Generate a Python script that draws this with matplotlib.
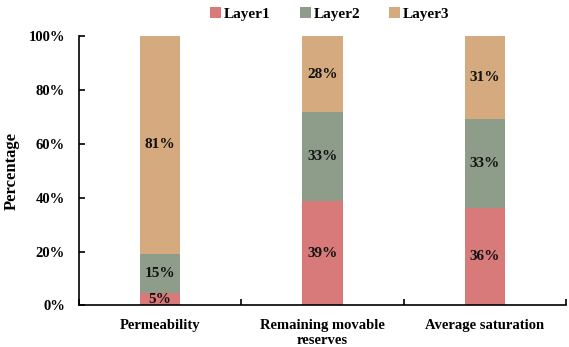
import matplotlib
matplotlib.use("Agg")
import matplotlib.pyplot as plt
from matplotlib.ticker import FixedLocator, PercentFormatter

categories = ["Permeability", "Remaining movable\nreserves", "Average saturation"]
layer1 = [4.6, 38.9, 36.2]
layer2 = [14.6, 32.8, 32.9]
layer3 = [80.8, 28.3, 30.9]
series_names = ["Layer1", "Layer2", "Layer3"]
colors = ["#D97A7A", "#8E9D89", "#D5AA7E"]

plt.rcParams["font.family"] = ["Liberation Serif", "DejaVu Serif"]
plt.rcParams["font.weight"] = "bold"

fig = plt.figure(figsize=(5.69, 3.47), dpi=100)
ax = fig.add_axes([0.1388, 0.1196, 0.8559, 0.7767])

x = list(range(len(categories)))
bottom = [0.0] * len(categories)
handles = []
for name, vals, col in zip(series_names, [layer1, layer2, layer3], colors):
    bars = ax.bar(x, vals, width=0.25, bottom=bottom, color=col, label=name)
    handles.append(bars)
    for xi, v, b in zip(x, vals, bottom):
        ax.text(xi, b + v / 2, f"{round(v):d}%", ha="center", va="center",
                fontsize=11, fontweight="bold", color="#111111")
    bottom = [b + v for b, v in zip(bottom, vals)]

ax.set_xlim(-0.5, len(categories) - 0.5)
ax.set_ylim(0, 100)
ax.yaxis.set_major_locator(FixedLocator([0, 20, 40, 60, 80, 100]))
ax.yaxis.set_major_formatter(PercentFormatter(decimals=0))
ax.set_xticks(x)
ax.set_xticklabels(categories, fontsize=10.5, fontweight="bold", linespacing=1.15)
ax.set_xticks([i - 0.5 for i in range(len(categories) + 1)], minor=True)
ax.tick_params(axis="x", which="major", length=0, pad=10)
ax.tick_params(axis="x", which="minor", direction="in", length=4, width=1.2)
ax.tick_params(axis="y", direction="in", length=4, width=1.2, labelsize=10.5, pad=10)
for lbl in ax.get_yticklabels():
    lbl.set_fontweight("bold")

for side in ["top", "right"]:
    ax.spines[side].set_visible(False)
for side in ["left", "bottom"]:
    ax.spines[side].set_linewidth(1.2)

ax.set_ylabel("Percentage", fontsize=12, fontweight="bold", labelpad=6)

fig.legend(handles=handles, labels=series_names, loc="center",
           bbox_to_anchor=(0.58, 0.96), ncol=3, frameon=False,
           handlelength=0.7, handleheight=0.7,
           handletextpad=0.2, columnspacing=1.9, prop={"weight": "bold", "size": 11})

fig.savefig("out.png", dpi=100)
